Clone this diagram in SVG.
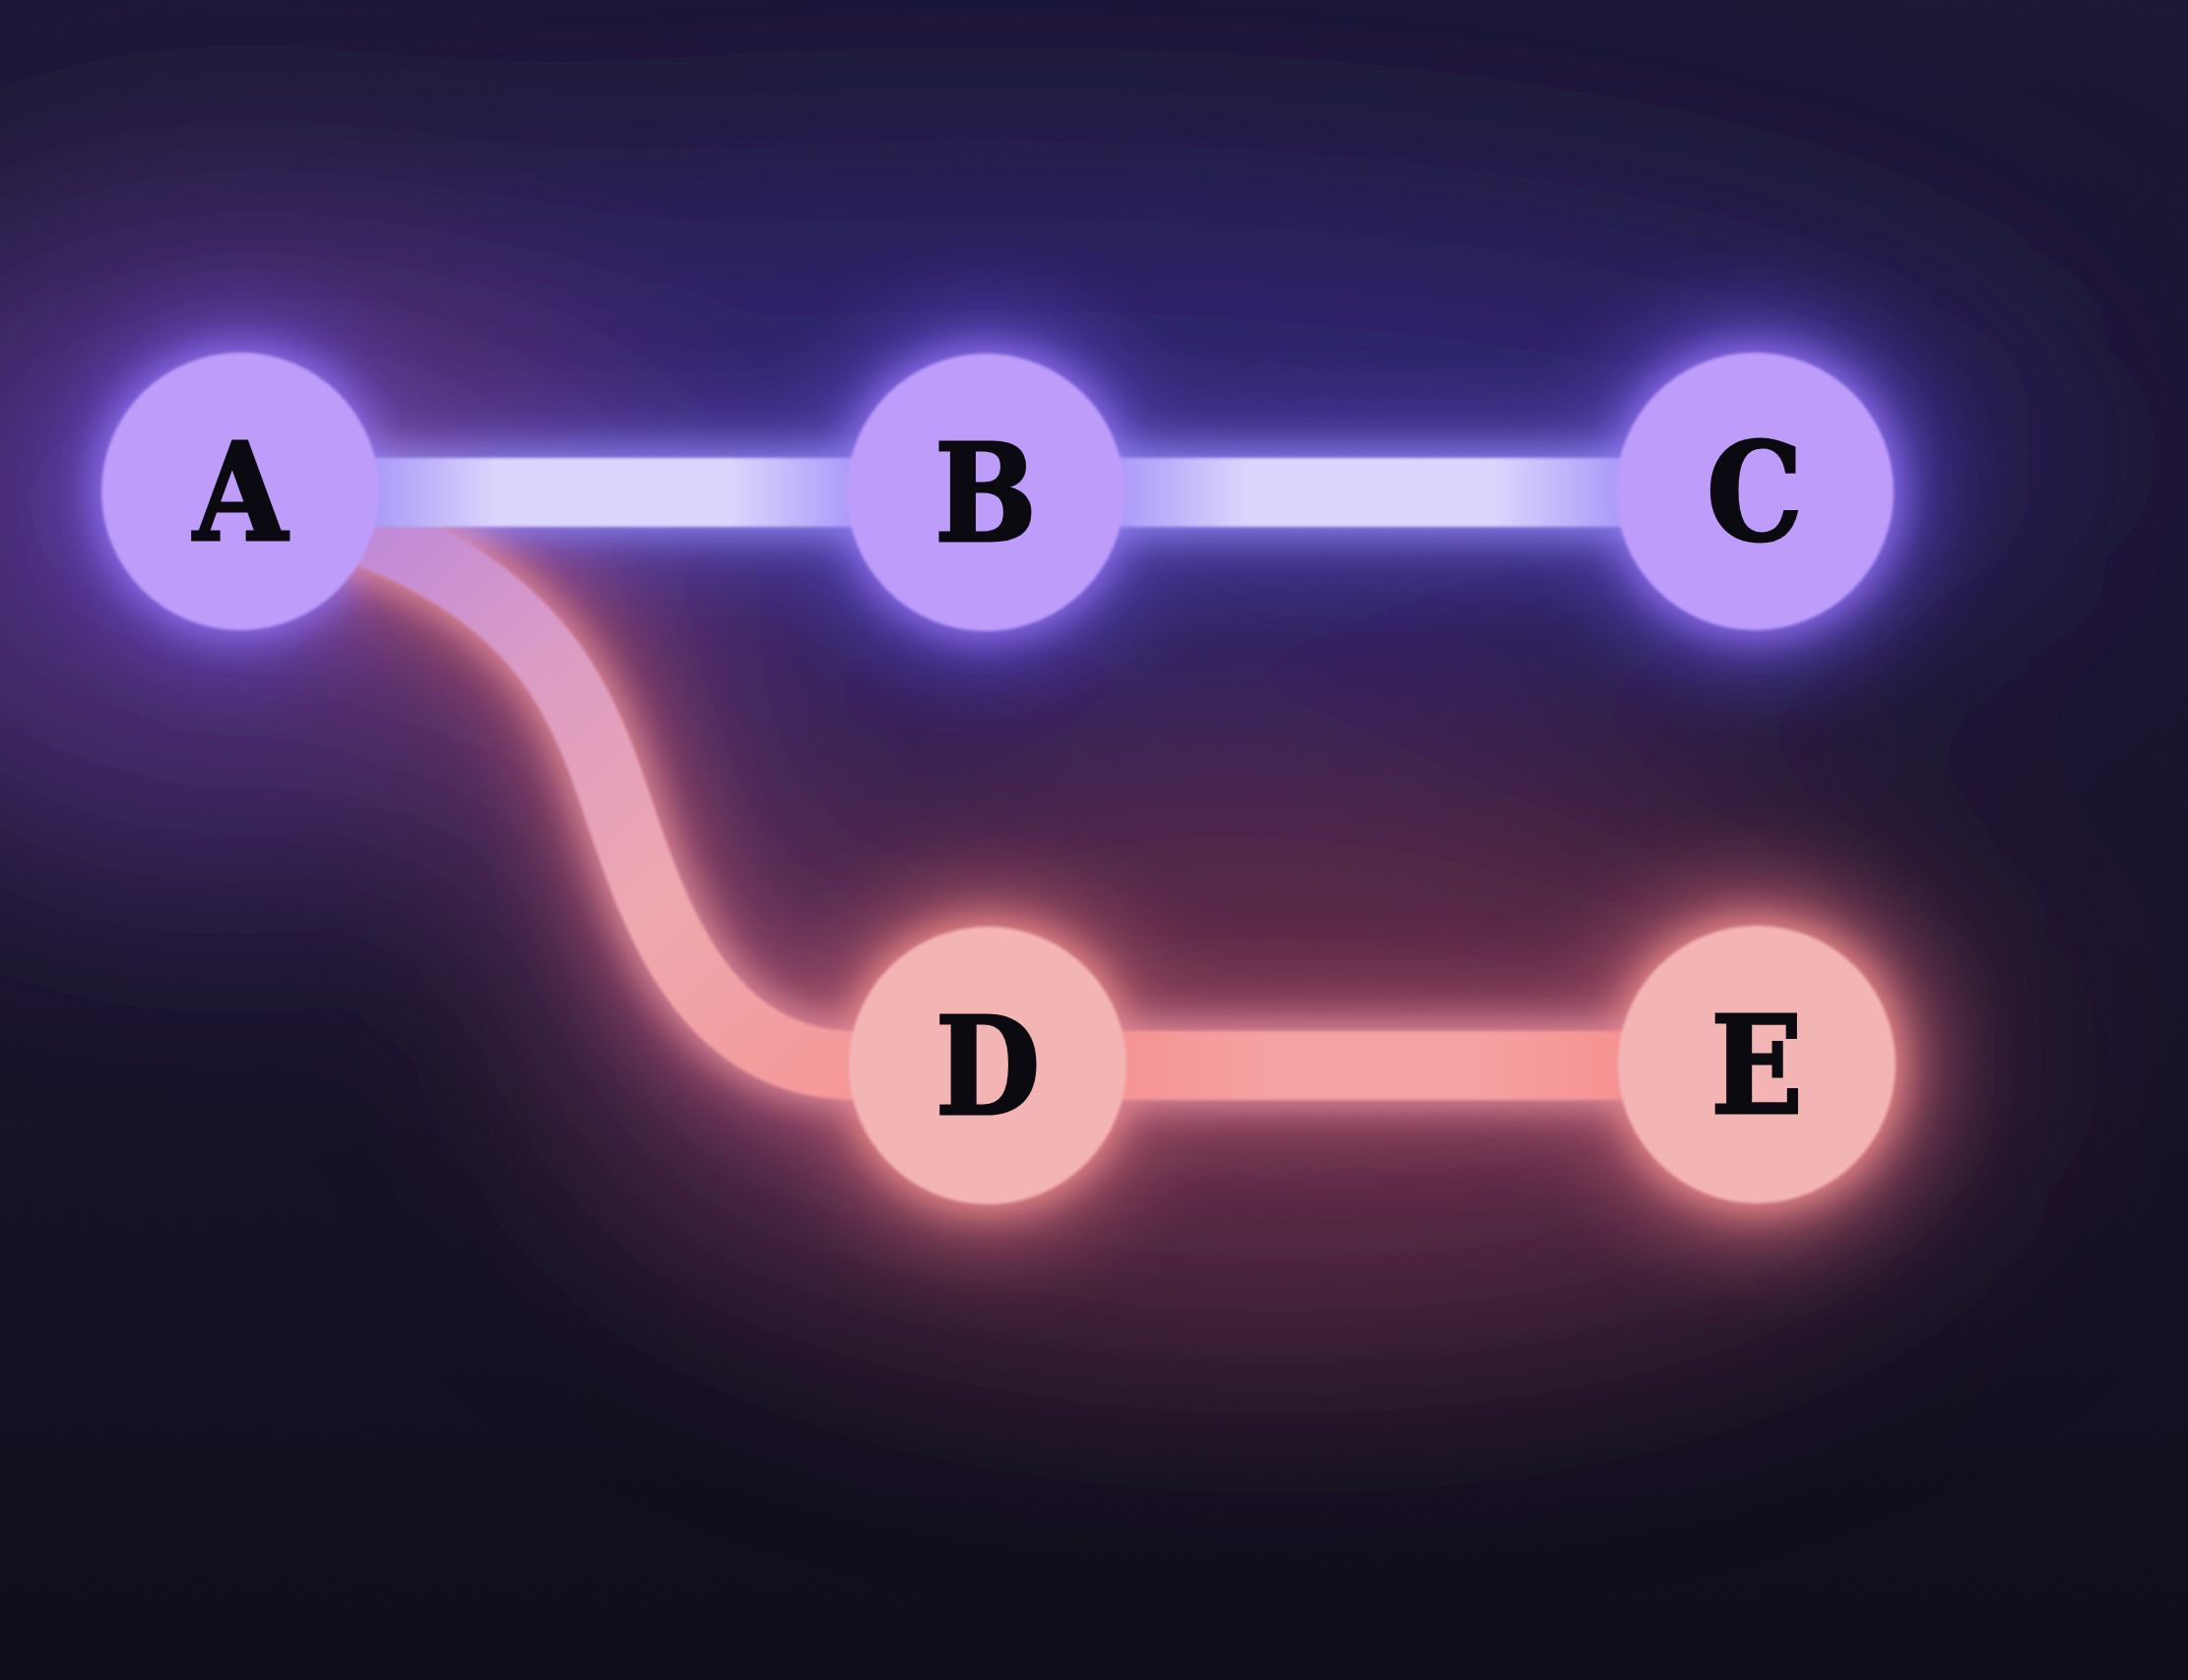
<svg xmlns="http://www.w3.org/2000/svg" width="2222" height="1706" viewBox="0 0 2222 1706">
<defs>
<style>
.lbl{font-family:"DejaVu Serif Condensed","DejaVu Serif",serif;font-weight:700;font-size:136px;fill:#0b0a10;stroke:#0b0a10;stroke-width:3;text-anchor:middle}
.np{fill:#bd9df9}
.nr{fill:#f3b5b4}
.edge{fill:none;stroke-width:70;stroke-linecap:butt}
</style>
<linearGradient id="bg" x1="0" y1="0" x2="0" y2="1">
<stop offset="0" stop-color="#1a1633"/>
<stop offset="0.55" stop-color="#17122a"/>
<stop offset="1" stop-color="#0c0b17"/>
</linearGradient>
<filter id="bxl" x="-50%" y="-50%" width="200%" height="200%"><feGaussianBlur stdDeviation="120"/></filter>
<filter id="bl" x="-50%" y="-50%" width="200%" height="200%"><feGaussianBlur stdDeviation="45"/></filter>
<filter id="bm" x="-50%" y="-50%" width="200%" height="200%"><feGaussianBlur stdDeviation="18"/></filter>
<filter id="bs" x="-20%" y="-20%" width="140%" height="140%"><feGaussianBlur stdDeviation="1.5"/></filter>
<filter id="noise" x="0" y="0" width="100%" height="100%">
<feTurbulence type="fractalNoise" baseFrequency="0.85" numOctaves="2" seed="3" result="n"/>
<feColorMatrix in="n" type="matrix" values="0 0 0 0 1  0 0 0 0 1  0 0 0 0 1  0 0 0 0.06 0"/>
</filter>
<linearGradient id="gAB" gradientUnits="userSpaceOnUse" x1="385" y1="0" x2="862" y2="0">
<stop offset="0" stop-color="#ac9cf8"/><stop offset="0.25" stop-color="#dcd5fd"/><stop offset="0.75" stop-color="#dcd5fd"/><stop offset="1" stop-color="#ac9cf8"/>
</linearGradient>
<linearGradient id="gBC" gradientUnits="userSpaceOnUse" x1="1141" y1="0" x2="1642" y2="0">
<stop offset="0" stop-color="#ac9cf8"/><stop offset="0.25" stop-color="#dcd5fd"/><stop offset="0.75" stop-color="#dcd5fd"/><stop offset="1" stop-color="#ac9cf8"/>
</linearGradient>
<linearGradient id="gDE" gradientUnits="userSpaceOnUse" x1="1144" y1="0" x2="1644" y2="0">
<stop offset="0" stop-color="#f69494"/><stop offset="0.3" stop-color="#f4a2a2"/><stop offset="0.7" stop-color="#f4a2a2"/><stop offset="1" stop-color="#f69292"/>
</linearGradient>
<linearGradient id="gAD" gradientUnits="userSpaceOnUse" x1="380" y1="540" x2="880" y2="1082">
<stop offset="0" stop-color="#c08ad8"/><stop offset="0.3" stop-color="#dc9cc4"/><stop offset="0.65" stop-color="#eea8ae"/><stop offset="1" stop-color="#f59898"/>
</linearGradient>
</defs>

<g id="background">
<rect width="2222" height="1706" fill="url(#bg)"/>
<g filter="url(#bxl)">
<ellipse cx="1000" cy="460" rx="1100" ry="280" fill="#33267a" opacity="0.85"/>
<ellipse cx="220" cy="540" rx="420" ry="340" fill="#55318a" opacity="0.75"/>
<ellipse cx="1300" cy="1080" rx="700" ry="280" fill="#6e2f4c" opacity="0.85"/>
<path d="M 243 499 C 480 560, 560 640, 610 770 C 650 874, 690 1081, 870 1081" fill="none" stroke="#6e3468" stroke-width="220"/>
</g>
<g filter="url(#bl)" opacity="0.9">
<circle cx="244" cy="499" r="175" fill="#5e44c0"/>
<circle cx="1001" cy="500" r="175" fill="#5a44c4"/>
<circle cx="1782" cy="499" r="175" fill="#5a44c4"/>
<circle cx="1003" cy="1082" r="178" fill="#b2586a"/>
<circle cx="1784" cy="1081" r="178" fill="#b2586a"/>
<path d="M 244 500 L 1782 500" fill="none" stroke="#5648b8" stroke-width="130"/>
<path d="M 243 499 C 480 560, 560 640, 610 770 C 650 874, 690 1081, 870 1081 L 1784 1081" fill="none" stroke="#a85068" stroke-width="130"/>
</g>
<g filter="url(#bm)">
<circle cx="244" cy="499" r="150" fill="#8a6ae8"/>
<circle cx="1001" cy="500" r="150" fill="#8a6ae8"/>
<circle cx="1782" cy="499" r="150" fill="#8a6ae8"/>
<circle cx="1003" cy="1082" r="150" fill="#e88888"/>
<circle cx="1784" cy="1081" r="150" fill="#e88888"/>
<path d="M 244 500 L 1782 500" fill="none" stroke="#8c80ee" stroke-width="86"/>
<path d="M 243 499 C 480 560, 560 640, 610 770 C 650 874, 690 1081, 870 1081 L 1784 1081" fill="none" stroke="#e08a9a" stroke-width="86"/>
</g>
<rect width="2222" height="1706" filter="url(#noise)" opacity="0.5"/>
</g>

<g id="connectors" filter="url(#bs)">
<path id="edge-A-D" class="edge" d="M 243 499 C 480 560, 560 640, 610 770 C 650 874, 690 1082, 870 1082 L 1003 1082" stroke="url(#gAD)"/>
<path id="edge-D-E" class="edge" d="M 1003 1082 L 1784 1082" stroke="url(#gDE)" stroke-width="72"/>
<path id="edge-A-B" class="edge" d="M 244 500 L 1001 500" stroke="url(#gAB)"/>
<path id="edge-B-C" class="edge" d="M 1001 500 L 1782 500" stroke="url(#gBC)"/>
</g>

<g id="node-A"><circle class="np" cx="244" cy="499" r="141" filter="url(#bs)"/><text class="lbl" x="244" y="548">A</text></g>
<g id="node-B"><circle class="np" cx="1001" cy="500" r="141" filter="url(#bs)"/><text class="lbl" x="1001" y="549">B</text></g>
<g id="node-C"><circle class="np" cx="1782" cy="499" r="141" filter="url(#bs)"/><text class="lbl" x="1782" y="548">C</text></g>
<g id="node-D"><circle class="nr" cx="1003" cy="1082" r="141" filter="url(#bs)"/><text class="lbl" x="1003" y="1131">D</text></g>
<g id="node-E"><circle class="nr" cx="1784" cy="1081" r="141" filter="url(#bs)"/><text class="lbl" x="1784" y="1130">E</text></g>
</svg>
